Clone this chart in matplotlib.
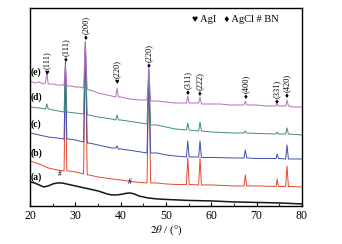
import matplotlib
matplotlib.use('Agg')
import matplotlib.pyplot as plt

# traces; intensity in arbitrary units (0 = axis bottom)
tt_e = [20, 21, 22, 23, 23.4, 23.7, 24.0, 25, 26, 27, 27.5, 27.8, 28.1, 29, 30, 31, 31.8, 32.2, 32.6,
        33, 34, 35, 36, 37, 38, 38.9, 39.2, 39.5, 40, 42, 44, 45.8, 46.2, 46.6, 48, 50, 52, 54.5, 54.8,
        55.1, 56, 57.2, 57.5, 57.8, 60, 62, 64, 67.2, 67.5, 67.8, 70, 72, 74.3, 74.5, 74.8, 76.4, 76.7,
        77.0, 78, 80]
int_e = [125, 123, 124, 122, 123, 133, 122, 122, 121, 121, 121, 141, 120, 120, 119, 119, 118, 164, 117,
         116, 115, 113, 112, 111, 110, 109, 118, 109, 109, 107, 106, 106, 138, 105, 105, 104, 103, 103, 110,
         103, 103, 103, 109, 102, 102, 102, 101, 101, 105, 101, 101, 100, 100, 102, 100, 100, 106,
         100, 99, 99]

tt_d = [20, 22, 23.4, 23.7, 24.0, 25, 27.5, 27.8, 28.1, 30, 31.8, 32.2, 32.6, 33, 35, 38, 38.9, 39.2,
        39.5, 40, 43, 45.8, 46.2, 46.6, 48, 50, 52, 54.5, 54.8, 55.1, 57.2, 57.5, 57.8, 60, 65, 67.2,
        67.5, 67.8, 70, 74.3, 74.5, 74.8, 76.4, 76.7, 77.0, 80]
int_d = [99, 98, 97, 102, 97, 96, 94, 140, 94, 93, 92, 160, 91, 91, 89, 87, 86, 91, 86, 86, 84, 82, 132,
         81, 81, 79, 77, 76, 83, 76, 75, 84, 75, 74, 73, 73, 75, 73, 72.5, 72, 74, 72, 72, 78, 72, 71]

tt_c = [20, 22, 24, 26, 27.5, 27.8, 28.1, 28.5, 30, 31.8, 32.2, 32.6, 33, 35, 38, 38.9, 39.2, 39.5, 40, 43,
        45.8, 46.2, 46.6, 48, 50, 52, 54.5, 54.8, 55.1, 57.2, 57.5, 57.8, 60, 65, 67.2, 67.5, 67.8, 70,
        74.3, 74.5, 74.8, 76.4, 76.7, 77.0, 80]
int_c = [73, 71, 69, 68, 67, 144, 67, 67, 66, 64, 164, 63, 63, 61, 58, 58, 60, 57, 57, 55, 53, 136, 53,
         53, 51, 50, 49, 65, 49, 49, 65, 48.5, 48.5, 48, 48, 56, 48, 47.5, 47.5, 52, 47.5, 47, 61, 47, 47]

tt_b = [20, 22, 24, 26, 27.5, 27.8, 28.1, 28.5, 30, 31.8, 32.2, 32.6, 33, 35, 38, 40, 43, 45.8, 46.2, 46.6,
        48, 50, 52, 54.5, 54.8, 55.1, 57.2, 57.5, 57.8, 60, 65, 67.2, 67.5, 67.8, 70, 74.3, 74.5, 74.8,
        76.4, 76.7, 77.0, 80]
int_b = [45, 42, 38, 36, 35, 144, 35, 35, 34, 32, 164, 31, 31, 29, 27, 26, 24, 23, 136, 23, 23, 22, 21.5,
         21.5, 48, 21.5, 21, 48, 21, 21, 20, 20, 31, 20, 20, 19.5, 27, 19.5, 19.5, 40, 19.5, 19]

tt_a = [20, 21, 22, 23, 24, 25, 26, 27, 28, 29, 30, 31, 32, 33, 34, 35, 36, 37, 38, 39, 40, 41, 42, 43,
        44, 45, 46, 48, 50, 55, 60, 65, 70, 75, 80]
int_a = [24, 23, 21, 19, 20, 22, 23, 23, 22, 21, 20, 19, 18, 17, 16, 15, 13.5, 12, 11, 11, 11.5, 12.5, 13,
         12, 10, 9, 8, 7, 6.5, 5.5, 5, 4, 3.5, 3, 2]

series_tt = [tt_a, tt_b, tt_c, tt_d, tt_e]
series_int = [int_a, int_b, int_c, int_d, int_e]
series_names = ['(a)', '(b)', '(c)', '(d)', '(e)']
series_label_y = [29, 53, 82, 109, 134]
series_colors = ['#151515', '#e4472f', '#3b4fb3', '#3f8c84', '#b070bf']
series_lw = [1.1, 0.7, 0.7, 0.7, 0.7]

# reflection labels: position, phase symbol, hkl, marker height
peak_pos = [23.7, 27.8, 32.2, 39.2, 46.2, 54.8, 57.5, 67.5, 74.5, 76.7]
peak_sym = ['\u2665', '\u2666', '\u2666', '\u2665', '\u2666', '\u2666', '\u2666', '\u2666', '\u2666', '\u2666']
peak_hkl = ['(111)', '(111)', '(200)', '(220)', '(220)', '(311)', '(222)', '(400)', '(331)', '(420)']
peak_mark_y = [133, 146, 168, 124, 140, 113, 112, 109, 104, 110]

bn_pos = [26.5, 42.0]
bn_y = [28, 20]

SERIF = ['Liberation Serif', 'DejaVu Serif']
SYMF = ['Liberation Serif', 'DejaVu Sans']
plt.rcParams['font.family'] = SERIF
plt.rcParams['mathtext.fontset'] = 'stix'

fig = plt.figure(figsize=(3.42, 2.44), dpi=100)
ax = fig.add_axes([0.088, 0.156, 0.795, 0.811])

for tt, yy, c, lw in zip(series_tt, series_int, series_colors, series_lw):
    ax.plot(tt, yy, color=c, lw=lw)

for name, y in zip(series_names, series_label_y):
    ax.text(20.2, y, name, fontsize=7, fontweight='bold', ha='left', va='center')

for x, s, h, y in zip(peak_pos, peak_sym, peak_hkl, peak_mark_y):
    ax.text(x, y, s, fontsize=5.5, ha='center', va='center', family=SYMF)
    ax.text(x, y + 4, h, fontsize=6, rotation=90, ha='center', va='bottom')

for x, y in zip(bn_pos, bn_y):
    ax.text(x, y, '#', fontsize=5.5, ha='center', va='bottom')

ax.text(55.8, 187, '\u2665 AgI   \u2666 AgCl # BN', fontsize=7.5, ha='left', va='center', family=SYMF)

ax.set_xlim(20, 80)
ax.set_ylim(0, 198)
ax.set_xticks([20, 30, 40, 50, 60, 70, 80])
ax.set_xticks([25, 35, 45, 55, 65, 75], minor=True)
ax.set_yticks([])
ax.tick_params(axis='x', which='both', direction='in', labelsize=8.5, pad=3)
ax.tick_params(axis='x', which='major', length=3)
ax.tick_params(axis='x', which='minor', length=2)
ax.set_xlabel(r'$2\theta$ / (°)', fontsize=8, labelpad=1)
for sp in ax.spines.values():
    sp.set_linewidth(1.0)

fig.savefig('out.png', dpi=100)
